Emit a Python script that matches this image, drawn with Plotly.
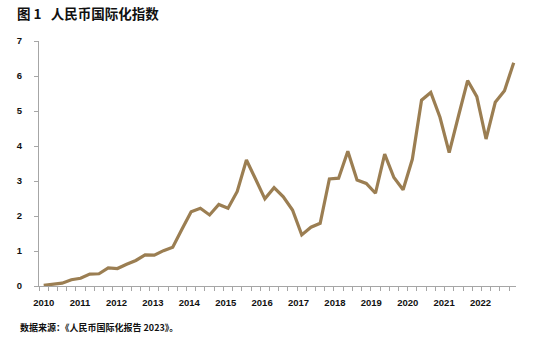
import plotly.graph_objects as go

# Quarterly RMB internationalization index, 2010Q1 - 2022Q4
years = list(range(2010, 2023))
quarters = [f"{y}Q{q}" for y in years for q in range(1, 5)]
values = [
    0.02, 0.05, 0.08, 0.18,   # 2010
    0.22, 0.34, 0.35, 0.52,   # 2011
    0.50, 0.62, 0.73, 0.89,   # 2012
    0.88, 1.01, 1.11, 1.62,   # 2013
    2.12, 2.22, 2.03, 2.33,   # 2014
    2.22, 2.70, 3.60, 3.05,   # 2015
    2.49, 2.81, 2.55, 2.17,   # 2016
    1.46, 1.68, 1.79, 3.06,   # 2017
    3.08, 3.85, 3.03, 2.93,   # 2018
    2.65, 3.77, 3.10, 2.75,   # 2019
    3.62, 5.31, 5.53, 4.82,   # 2020
    3.81, 4.85, 5.87, 5.41,   # 2021
    4.20, 5.25, 5.58, 6.38,   # 2022
]
y_ticks = list(range(0, 8))
year_labels = [str(y) for y in years]

title_text = "图 1\u00a0\u00a0\u00a0人民币国际化指数"
source_text = "数据来源：《人民币国际化报告 2023》。"

x_idx = list(range(len(values)))
label_pos = [3.95 * k for k in range(len(years))]

FONT = "Liberation Sans, Arial, Noto Sans CJK SC, sans-serif"
CJK = "Noto Sans CJK SC, Liberation Sans, sans-serif"
AXIS_GRAY = "#A6A6A6"
LINE = "#9B7E52"

fig = go.Figure()
fig.add_trace(go.Scatter(
    x=x_idx, y=values, mode="lines",
    line=dict(color=LINE, width=3.2),
    customdata=quarters,
    hovertemplate="%{customdata}: %{y:.2f}<extra></extra>",
))

fig.update_layout(
    width=558, height=342,
    margin=dict(l=39, r=42, t=41, b=56),
    paper_bgcolor="white", plot_bgcolor="white",
    showlegend=False,
    title=dict(text=title_text, x=17 / 558, xanchor="left", xref="container",
               y=1 - 14 / 342, yanchor="middle", yref="container",
               font=dict(family=CJK, size=13.5, color="#111111", weight="bold")),
    annotations=[dict(
        text=source_text, xref="paper", yref="paper",
        x=(18 - 39) / 477, y=(286 - 327) / 245, xanchor="left", yanchor="middle",
        showarrow=False, font=dict(family=CJK, size=9, color="#111111", weight="bold"),
    )],
)

fig.update_xaxes(
    range=[-0.51, 51.25], showgrid=False, zeroline=False,
    showline=True, linecolor=AXIS_GRAY, linewidth=1,
    tickmode="array", tickvals=label_pos, ticktext=year_labels,
    ticks="", ticklabelstandoff=8,
    tickfont=dict(family=FONT, size=9.5, color="#111111", weight="bold"),
    minor=dict(ticks="outside", tickmode="linear", tick0=-0.5, dtick=1,
               ticklen=4, tickcolor=AXIS_GRAY, tickwidth=1, showgrid=False),
)
fig.update_yaxes(
    range=[0, 7], showgrid=False, zeroline=False,
    showline=True, linecolor=AXIS_GRAY, linewidth=1,
    tickmode="array", tickvals=y_ticks, ticktext=[str(v) for v in y_ticks],
    ticks="outside", ticklen=4, tickcolor=AXIS_GRAY, tickwidth=1,
    ticklabelstandoff=10,
    tickfont=dict(family=FONT, size=9.5, color="#111111", weight="bold"),
)

fig.write_html("out.html")
